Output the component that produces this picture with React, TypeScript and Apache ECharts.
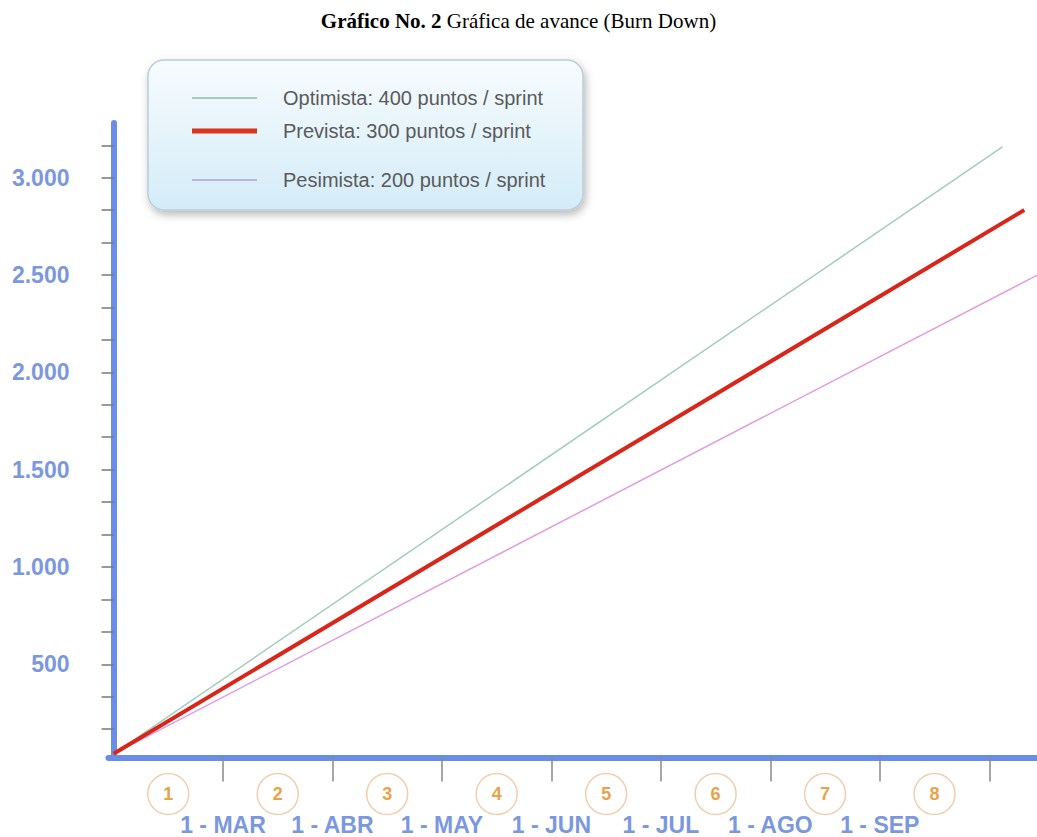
import React, { useEffect, useRef } from "react";
import * as echarts from "echarts";

// ---- data ----
const sprintTicks = [1, 2, 3, 4, 5, 6, 7, 8];
const sprintCenters = [0.5, 1.5, 2.5, 3.5, 4.5, 5.5, 6.5, 7.5];
const sprintNumbers = ["1", "2", "3", "4", "5", "6", "7", "8"];
const dateTicks = [1, 2, 3, 4, 5, 6, 7];
const dateLabels = ["1 - MAR", "1 - ABR", "1 - MAY", "1 - JUN", "1 - JUL", "1 - AGO", "1 - SEP"];
const yLabelValues = [500, 1000, 1500, 2000, 2500, 3000];
const yMinorTicks = [
  166.67, 333.33, 500, 666.67, 833.33, 1000, 1166.67, 1333.33, 1500, 1666.67, 1833.33, 2000,
  2166.67, 2333.33, 2500, 2666.67, 2833.33, 3000, 3166.67,
];
const seriesNames = [
  "Optimista: 400 puntos / sprint",
  "Prevista: 300 puntos / sprint",
  "Pesimista: 200 puntos / sprint",
];
const optimista = [
  [0, 40],
  [8.12, 3158],
];
const prevista = [
  [0, 40],
  [8.32, 2834],
];
const pesimista = [
  [0, 40],
  [8.44, 2500],
];

const AXIS_BLUE = "#6a8ee8";
const LABEL_BLUE = "#7b98df";
const FONT = "'Liberation Sans', Arial, sans-serif";

function fmtThousands(v: number): string {
  const n = Math.round(v);
  if (n >= 1000) {
    return `${Math.floor(n / 1000)}.${String(n % 1000).padStart(3, "0")}`;
  }
  return String(n);
}

export default function App() {
  const ref = useRef<HTMLDivElement>(null);

  useEffect(() => {
    if (!ref.current) return;
    const chart = echarts.init(ref.current, undefined, { renderer: "svg" });

    const lineColors = ["#a3cdbb", "#d8261a", "#e29ae0"];
    const lineWidths = [1.5, 4, 1.5];
    const legendIconColors = ["#a8c8c0", "#d8341e", "#bdb4dc"];
    const legendIconWidths = [2, 5, 2];
    const legendTops = [86, 119, 168];

    const legends = seriesNames.map((name, i) => ({
      show: true,
      orient: "vertical",
      left: 192,
      top: legendTops[i],
      padding: 0,
      itemWidth: 65,
      itemHeight: legendIconWidths[i],
      selectedMode: false,
      data: [
        {
          name,
          icon: "rect",
          itemStyle: { color: legendIconColors[i], opacity: 1, borderWidth: 0 },
        },
      ],
      textStyle: {
        color: "#5a5a5a",
        fontSize: 20,
        fontFamily: FONT,
        lineHeight: 24,
        padding: [0, 0, 0, 21],
      },
    }));

    const option: any = {
      animation: false,
      backgroundColor: "#ffffff",
      title: {
        text: "{b|Gráfico No. 2} Gráfica de avance (Burn Down)",
        left: "center",
        top: 5,
        textStyle: {
          fontFamily: "'Liberation Serif', 'Times New Roman', serif",
          fontSize: 21,
          fontWeight: "normal",
          color: "#000000",
          rich: {
            b: {
              fontFamily: "'Liberation Serif', 'Times New Roman', serif",
              fontSize: 21,
              fontWeight: "bold",
              color: "#000000",
            },
          },
        },
      },
      graphic: [
        {
          type: "rect",
          z: 1,
          shape: { x: 148, y: 60, width: 435, height: 150, r: 16 },
          style: {
            fill: new echarts.graphic.LinearGradient(0, 0, 0, 1, [
              { offset: 0, color: "#f7fcfe" },
              { offset: 1, color: "#d4ecf8" },
            ]),
            stroke: "#b9cdd8",
            lineWidth: 1.5,
            shadowBlur: 8,
            shadowOffsetX: 2,
            shadowOffsetY: 4,
            shadowColor: "rgba(0,0,0,0.28)",
          },
        },
      ],
      legend: legends,
      grid: { left: 108.5, right: 0, top: 123, bottom: 79.5, containLabel: false },
      xAxis: [
        {
          type: "value",
          min: -0.046,
          max: 8.436,
          position: "bottom",
          axisLine: { show: true, lineStyle: { color: AXIS_BLUE, width: 6 } },
          axisTick: {
            show: true,
            customValues: sprintTicks,
            length: 24,
            lineStyle: { color: "#888888", width: 1.5 },
          },
          axisLabel: {
            show: true,
            customValues: dateTicks,
            margin: 56,
            color: LABEL_BLUE,
            fontFamily: FONT,
            fontWeight: "bold",
            fontSize: 23,
            formatter: (v: number) => dateLabels[Math.round(v) - 1] ?? "",
          },
          splitLine: { show: false },
        },
        {
          type: "value",
          min: -0.046,
          max: 8.436,
          position: "bottom",
          axisLine: { show: false },
          axisTick: { show: false },
          axisLabel: {
            show: true,
            customValues: sprintCenters,
            margin: 16,
            formatter: (v: number) => `{c|${sprintNumbers[Math.round(v - 0.5)] ?? ""}}`,
            rich: {
              c: {
                width: 41,
                height: 41,
                lineHeight: 41,
                align: "center",
                verticalAlign: "middle",
                borderRadius: 22,
                borderColor: "#efcfae",
                borderWidth: 1.5,
                color: "#e9a24a",
                fontFamily: FONT,
                fontWeight: "bold",
                fontSize: 18,
              },
            },
          },
          splitLine: { show: false },
        },
      ],
      yAxis: {
        type: "value",
        min: 21,
        max: 3281,
        axisLine: { show: true, lineStyle: { color: AXIS_BLUE, width: 6 } },
        axisTick: {
          show: true,
          customValues: yMinorTicks,
          length: 12,
          lineStyle: { color: "#777777", width: 1.5 },
        },
        axisLabel: {
          show: true,
          customValues: yLabelValues,
          margin: 39,
          color: LABEL_BLUE,
          fontFamily: FONT,
          fontWeight: "bold",
          fontSize: 23,
          formatter: (v: number) => fmtThousands(v),
        },
        splitLine: { show: false },
      },
      series: [
        { name: seriesNames[0], data: optimista },
        { name: seriesNames[1], data: prevista },
        { name: seriesNames[2], data: pesimista },
      ].map((s, i) => ({
        type: "line",
        name: s.name,
        data: s.data,
        xAxisIndex: 0,
        yAxisIndex: 0,
        symbol: "none",
        showSymbol: false,
        clip: true,
        z: i === 1 ? 4 : 3,
        itemStyle: { color: lineColors[i] },
        lineStyle: { color: lineColors[i], width: lineWidths[i] },
      })),
    };

    chart.setOption(option);
    return () => {
      chart.dispose();
    };
  }, []);

  return (
    <div
      ref={ref}
      style={{ position: "fixed", left: 0, top: 0, width: 1037, height: 837, background: "#fff" }}
    />
  );
}
